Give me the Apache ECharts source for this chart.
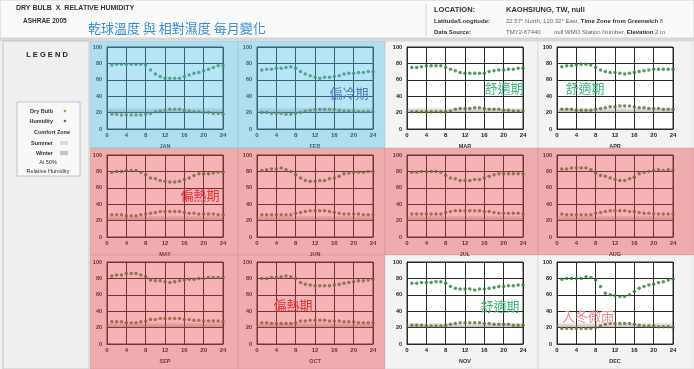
<!DOCTYPE html>
<html><head><meta charset="utf-8">
<script src="https://cdn.jsdelivr.net/npm/echarts@6/dist/echarts.min.js"></script>
<style>html,body{margin:0;padding:0;background:#eeeeee;}#c{width:694px;height:369px;}</style>
</head><body><div id="c"></div><script>
const months = ['JAN','FEB','MAR','APR','MAY','JUN','JUL','AUG','SEP','OCT','NOV','DEC'];
const hours = [1,2,3,4,5,6,7,8,9,10,11,12,13,14,15,16,17,18,19,20,21,22,23,24];
const xTicks = [0,4,8,12,16,20,24];
const yTicks = [0,20,40,60,80,100];

const janHumidity = [78,79,79,79,79,79,79,78,72,67,64,62,62,62,62,64,66,68,69,71,73,75,77,77];
const janDryBulb  = [18,18,17,17,17,17,17,18,19,21,22,23,24,24,24,23,22,21,21,20,20,19,19,18];
const febHumidity = [72,73,73,74,74,75,76,74,70,67,65,63,62,63,63,64,65,67,68,68,69,69,70,70];
const febDryBulb  = [20,20,19,19,19,18,18,19,20,22,23,24,24,24,24,24,23,22,22,22,21,21,21,21];
const marHumidity = [75,75,76,77,77,77,77,75,73,71,69,68,68,68,68,68,70,71,72,72,73,73,74,74];
const marDryBulb  = [21,21,21,21,21,21,21,21,22,24,25,25,25,26,26,25,24,24,24,23,23,22,22,22];
const aprHumidity = [76,77,77,78,79,79,78,75,72,70,69,69,68,67,68,69,70,71,72,73,73,73,73,73];
const aprDryBulb  = [24,24,24,23,23,23,23,24,25,26,27,27,28,28,28,27,26,26,25,25,25,24,24,24];
const mayHumidity = [79,80,80,81,81,81,79,76,72,71,69,68,67,67,68,70,72,75,77,77,77,78,79,79];
const mayDryBulb  = [27,27,27,26,26,26,27,28,29,30,31,31,31,31,31,30,29,29,28,28,28,28,27,27];
const junHumidity = [81,82,83,83,84,82,80,76,72,69,68,68,69,69,71,72,74,77,78,79,79,79,80,80];
const junDryBulb  = [27,27,27,27,27,27,27,29,30,31,32,32,32,32,31,30,29,28,28,28,28,27,27,27];
const julHumidity = [79,79,80,80,80,80,79,75,72,71,69,69,69,70,70,72,74,76,77,77,77,77,77,77];
const julDryBulb  = [28,28,28,28,28,28,28,30,31,32,32,32,32,32,32,31,31,30,29,29,29,29,29,28];
const augHumidity = [83,83,84,84,84,84,82,78,75,74,72,70,69,69,71,73,77,79,80,81,82,81,82,82];
const augDryBulb  = [28,27,27,27,27,27,27,29,30,31,32,32,32,32,31,31,30,29,29,28,28,28,28,28];
const sepHumidity = [83,84,84,86,86,86,84,82,78,77,77,76,75,76,77,78,79,79,80,80,81,81,81,81];
const sepDryBulb  = [27,27,27,26,26,26,27,28,30,30,31,31,31,31,31,30,30,29,29,28,28,28,28,27];
const octHumidity = [80,80,81,81,82,83,82,80,75,73,72,71,71,71,71,72,73,74,75,76,77,77,78,79];
const octDryBulb  = [26,26,25,25,25,25,25,26,28,28,29,29,29,29,28,28,28,27,27,27,26,26,26,26];
const novHumidity = [74,74,75,75,75,76,76,74,70,68,67,67,67,66,67,67,68,69,70,70,71,71,72,72];
const novDryBulb  = [23,23,23,22,22,22,22,23,24,25,26,26,26,26,26,25,25,24,24,24,24,23,23,23];
const decHumidity = [79,80,80,80,80,82,81,78,70,62,60,59,58,58,60,64,68,70,72,73,75,76,78,79];
const decDryBulb  = [19,19,19,19,19,19,19,20,22,24,25,25,25,25,25,24,23,22,22,22,21,21,21,20];

const comfortZone = [20, 26];

const humidity = [janHumidity,febHumidity,marHumidity,aprHumidity,mayHumidity,junHumidity,julHumidity,augHumidity,sepHumidity,octHumidity,novHumidity,decHumidity];
const dryBulb = [janDryBulb,febDryBulb,marDryBulb,aprDryBulb,mayDryBulb,junDryBulb,julDryBulb,augDryBulb,sepDryBulb,octDryBulb,novDryBulb,decDryBulb];

const colLeft = [107, 257, 407, 557];
const rowTop = [47, 155, 262];
const colX = [90, 238, 385, 538, 694];
const rowY = [41, 148, 255, 369];

const chart = echarts.init(document.getElementById('c'), null, {renderer:'canvas'});
const grids = [], xAxes = [], yAxes = [], series = [];
months.forEach((m, i) => {
  const r = Math.floor(i / 4), c = i % 4;
  grids.push({left: colLeft[c], top: rowTop[r], width: 116, height: 82, show: true,
    backgroundColor: '#ffffff', borderColor: '#2a2a2a', borderWidth: 1});
  xAxes.push({type: 'value', gridIndex: i, min: xTicks[0], max: xTicks[xTicks.length-1], interval: xTicks[1]-xTicks[0],
    name: m, nameLocation: 'middle', nameGap: 14,
    nameTextStyle: {fontSize: 5.5, fontWeight: 'bold', color: '#333', fontFamily: 'Liberation Sans'},
    axisLine: {show: true, lineStyle: {color: '#2a2a2a'}}, axisTick: {show: false},
    axisLabel: {fontSize: 6, fontWeight: 'bold', color: '#222', margin: 3, fontFamily: 'Liberation Sans'},
    splitLine: {show: true, lineStyle: {color: '#2a2a2a', width: 1}}});
  yAxes.push({type: 'value', gridIndex: i, min: yTicks[0], max: yTicks[yTicks.length-1], interval: yTicks[1]-yTicks[0],
    axisLine: {show: true, lineStyle: {color: '#2a2a2a'}}, axisTick: {show: false},
    axisLabel: {fontSize: 5.5, fontWeight: 'bold', color: '#222', margin: 5, fontFamily: 'Liberation Sans'},
    splitLine: {show: true, lineStyle: {color: '#2a2a2a', width: 1}}});
  series.push({type: 'scatter', xAxisIndex: i, yAxisIndex: i, symbolSize: 3.5,
    itemStyle: {color: '#6e6630'},
    data: hours.map((h, k) => [h, dryBulb[i][k]]),
    markArea: {silent: true, data: [[{yAxis: comfortZone[0]}, {yAxis: comfortZone[1]}]],
      itemStyle: {color: new echarts.graphic.LinearGradient(0,0,0,1,[
        {offset:0, color:'rgba(120,120,110,0.10)'},{offset:0.6, color:'rgba(120,120,110,0.35)'},{offset:1, color:'rgba(100,100,90,0.45)'}])}}});
  series.push({type: 'scatter', xAxisIndex: i, yAxisIndex: i, symbolSize: 3.5,
    itemStyle: {color: '#2a8038'},
    data: hours.map((h, k) => [h, humidity[i][k]])});
});

const g = [];
// header
g.push({type:'rect', z:-5, shape:{x:0,y:0,width:694,height:38}, style:{fill:'#fafafa', stroke:'#d2d2d2', lineWidth:1}});
g.push({type:'line', z:-4, shape:{x1:426,y1:4,x2:426,y2:36}, style:{stroke:'#d8d8d8', lineWidth:1}});
g.push({type:'rect', z:-5, shape:{x:0,y:38,width:694,height:3}, style:{fill:'#d6d6d6'}});
// legend column
g.push({type:'rect', z:-5, shape:{x:3,y:41,width:86,height:328}, style:{fill:'#efefef', stroke:'#c8c8c8', lineWidth:1}});
// panel backgrounds
for (let r = 0; r < 3; r++) for (let c = 0; c < 4; c++) {
  g.push({type:'rect', z:-5, shape:{x:colX[c], y:rowY[r], width:colX[c+1]-colX[c], height:rowY[r+1]-rowY[r]},
    style:{fill:'#f3f3f3', stroke:'#dcdcdc', lineWidth:1}});
}
// overlays
g.push({type:'rect', z:100, silent:true, shape:{x:90,y:41,width:295,height:107}, style:{fill:'rgba(77,190,230,0.4)'}});
g.push({type:'rect', z:100, silent:true, shape:{x:90,y:148,width:604,height:107}, style:{fill:'rgba(232,65,70,0.4)'}});
g.push({type:'rect', z:100, silent:true, shape:{x:90,y:255,width:295,height:114}, style:{fill:'rgba(232,65,70,0.4)'}});
// header texts
const F = 'Liberation Sans';
g.push({type:'text', z:110, x:16, y:8, style:{text:'DRY BULB  X  RELATIVE HUMIDITY', font:'bold 7px '+F, fill:'#333', textVerticalAlign:'middle'}});
g.push({type:'text', z:110, x:23, y:21, style:{text:'ASHRAE 2005', font:'bold 6.5px '+F, fill:'#333', textVerticalAlign:'middle'}});
g.push({type:'text', z:110, x:88, y:28, style:{text:'乾球溫度 與 相對濕度 每月變化', font:'13px "Noto Sans CJK TC"', fill:'#3a8fd0', textVerticalAlign:'middle'}});
g.push({type:'text', z:110, x:434, y:10, style:{text:'LOCATION:', font:'bold 7.5px '+F, fill:'#333', textVerticalAlign:'middle'}});
g.push({type:'text', z:110, x:506, y:10, style:{text:'KAOHSIUNG, TW, null', font:'bold 7.5px '+F, fill:'#333', textVerticalAlign:'middle'}});
g.push({type:'text', z:110, x:434, y:21, style:{text:'Latitude/Longitude:', font:'bold 6px '+F, fill:'#333', textVerticalAlign:'middle'}});
g.push({type:'text', z:110, x:434, y:32, style:{text:'Data Source:', font:'bold 6px '+F, fill:'#333', textVerticalAlign:'middle'}});
g.push({type:'text', z:110, x:506, y:21, style:{text:'{n|22.57° North, 120.32° East, }{b|Time Zone from Greenwich}{n| 8}', textVerticalAlign:'middle',
  rich:{n:{font:'6px '+F, fill:'#666'}, b:{font:'bold 6px '+F, fill:'#333'}}}});
g.push({type:'text', z:110, x:506, y:32, style:{text:'{n|TMY2-67440        null WMO Station Number, }{b|Elevation}{n| 2 m}', textVerticalAlign:'middle',
  rich:{n:{font:'6px '+F, fill:'#666'}, b:{font:'bold 6px '+F, fill:'#333'}}}});
// legend
g.push({type:'text', z:110, x:47, y:55, style:{text:'L E G E N D', font:'bold 7.5px '+F, fill:'#222', align:'center', textVerticalAlign:'middle'}});
g.push({type:'rect', z:105, shape:{x:17,y:102,width:63,height:74}, style:{fill:'#f8f8f8', stroke:'#c4c4c4', lineWidth:1}});
g.push({type:'text', z:110, x:53, y:111, style:{text:'Dry Bulb', font:'bold 5.5px '+F, fill:'#333', align:'right', textVerticalAlign:'middle'}});
g.push({type:'text', z:110, x:53, y:121, style:{text:'Humidity', font:'bold 5.5px '+F, fill:'#333', align:'right', textVerticalAlign:'middle'}});
g.push({type:'text', z:110, x:52, y:132, style:{text:'Comfort Zone', font:'bold 5.5px '+F, fill:'#333', align:'center', textVerticalAlign:'middle'}});
g.push({type:'text', z:110, x:53, y:143, style:{text:'Summer', font:'bold 5.5px '+F, fill:'#333', align:'right', textVerticalAlign:'middle'}});
g.push({type:'text', z:110, x:53, y:153, style:{text:'Winter', font:'bold 5.5px '+F, fill:'#333', align:'right', textVerticalAlign:'middle'}});
g.push({type:'text', z:110, x:48, y:162, style:{text:'At 50%', font:'5.5px '+F, fill:'#333', align:'center', textVerticalAlign:'middle'}});
g.push({type:'text', z:110, x:48, y:171, style:{text:'Relative Humidity', font:'5.5px '+F, fill:'#333', align:'center', textVerticalAlign:'middle'}});
g.push({type:'circle', z:110, shape:{cx:65,cy:111,r:1.3}, style:{fill:'#9aa838'}});
g.push({type:'circle', z:110, shape:{cx:65,cy:121,r:1.3}, style:{fill:'#2e8a3c'}});
g.push({type:'rect', z:110, shape:{x:60,y:141,width:8,height:4}, style:{fill:'#dcdcdc'}});
g.push({type:'rect', z:110, shape:{x:60,y:151,width:8,height:4}, style:{fill:'#c2c2c2'}});
// period labels
const lab = (t, x, y, col) => g.push({type:'text', z:120, x:x, y:y, style:{text:t, font:'13px "Noto Sans CJK TC"', fill:col, align:'center', textVerticalAlign:'middle'}});
lab('偏冷期', 349, 93, '#4a78b6');
lab('舒適期', 504, 88, '#3cb878');
lab('舒適期', 585, 88, '#3cb878');
lab('偏熱期', 200, 195, '#e53535');
lab('偏熱期', 293, 305, '#e53535');
lab('舒適期', 500, 306, '#3cb878');
lab('入冬微雨', 588, 316, '#e88a8a');

chart.setOption({animation: false, backgroundColor: 'transparent', grid: grids, xAxis: xAxes, yAxis: yAxes, series: series, graphic: {elements: g}});
</script></body></html>
